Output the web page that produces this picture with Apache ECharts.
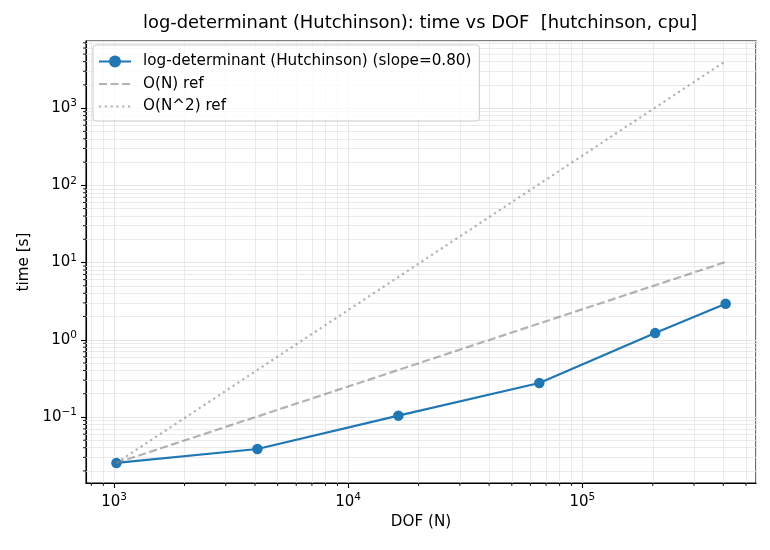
<!DOCTYPE html>
<html>
<head>
<meta charset="utf-8">
<script src="https://cdn.jsdelivr.net/npm/echarts@6/dist/echarts.min.js"></script>
<style>
  html, body { margin: 0; padding: 0; background: #fff; }
  #chart { width: 770px; height: 550px; }
</style>
</head>
<body>
<div id="chart"></div>
<script>
// measured data (DOF vs wall time)
const dof = [1024, 4096, 16384, 65536, 204800, 409600]
const timeSec = [0.0254, 0.0385, 0.104, 0.275, 1.22, 2.92]
// reference slopes anchored at first point
const refN = [0.0254, 0.1016, 0.4064, 1.626, 5.08, 10.16]
const refN2 = [0.0254, 0.4064, 6.50, 104.0, 1016, 4064]

// axis limits and minor ticks
const xMin = 759, xMax = 552000
const yMin = 0.01396, yMax = 7400
const xMinor = [800, 900, 2000, 3000, 4000, 5000, 6000, 7000, 8000, 9000,
  20000, 30000, 40000, 50000, 60000, 70000, 80000, 90000,
  200000, 300000, 400000, 500000]
const yMinor = [0.02, 0.03, 0.04, 0.05, 0.06, 0.07, 0.08, 0.09,
  0.2, 0.3, 0.4, 0.5, 0.6, 0.7, 0.8, 0.9,
  2, 3, 4, 5, 6, 7, 8, 9,
  20, 30, 40, 50, 60, 70, 80, 90,
  200, 300, 400, 500, 600, 700, 800, 900,
  2000, 3000, 4000, 5000, 6000, 7000]

const FONT = 'DejaVu Sans'
const GRID_COLOR = '#e6e6e6'
const REF_COLOR = 'rgba(128,128,128,0.6)'

function powLabel(v) {
  let e = Math.round(Math.log10(v))
  let s = e < 0 ? '\u2212' + (-e) : '' + e
  return '{b|10}{s|' + s + '}'
}

const labelRich = {
  b: { fontFamily: FONT, fontSize: 15, color: '#000' },
  s: { fontFamily: FONT, fontSize: 10.5, color: '#000', padding: [0, 0, 9, 0] }
}

let chart = echarts.init(document.getElementById('chart'))

chart.setOption({
  animation: false,
  backgroundColor: '#fff',
  title: {
    text: 'log-determinant (Hutchinson): time vs DOF  [hutchinson, cpu]',
    left: 138,
    top: 9,
    textStyle: { fontFamily: FONT, fontSize: 17.9, fontWeight: 'normal', color: '#000' }
  },
  grid: {
    left: 86, top: 41, right: 14, bottom: 67,
    show: true, borderColor: '#000', borderWidth: 1.1, backgroundColor: 'transparent'
  },
  legend: {
    orient: 'vertical',
    left: 93, top: 45,
    data: [
      { name: 'log-determinant (Hutchinson) (slope=0.80)' },
      { name: 'O(N) ref', itemStyle: { opacity: 0 } },
      { name: 'O(N^2) ref', itemStyle: { opacity: 0 } }
    ],
    itemWidth: 32, itemHeight: 15, itemGap: 7.5,
    padding: [9, 8, 7, 5],
    backgroundColor: 'rgba(255,255,255,0.8)',
    borderColor: '#cccccc', borderWidth: 1, borderRadius: 3,
    textStyle: { fontFamily: FONT, fontSize: 15.2, color: '#000', padding: [0, 0, 0, 7] }
  },
  xAxis: {
    type: 'log',
    min: xMin, max: xMax,
    name: 'DOF (N)',
    nameLocation: 'middle',
    nameGap: 32,
    nameTextStyle: { fontFamily: FONT, fontSize: 15.2, color: '#000' },
    axisLine: { lineStyle: { color: '#000', width: 1.1 } },
    axisTick: { show: true, length: 5, lineStyle: { color: '#000', width: 1.1 } },
    axisLabel: {
      margin: 9, showMinLabel: false, showMaxLabel: false,
      formatter: powLabel, rich: labelRich
    },
    splitLine: { show: true, lineStyle: { color: GRID_COLOR, width: 1 } }
  },
  yAxis: {
    type: 'log',
    min: yMin, max: yMax,
    name: 'time [s]',
    nameLocation: 'middle',
    nameGap: 52,
    nameTextStyle: { fontFamily: FONT, fontSize: 15.2, color: '#000' },
    axisLine: { lineStyle: { color: '#000', width: 1.1 } },
    axisTick: { show: true, length: 5, lineStyle: { color: '#000', width: 1.1 } },
    axisLabel: {
      margin: 9, showMinLabel: false, showMaxLabel: false,
      formatter: powLabel, rich: labelRich
    },
    splitLine: { show: true, lineStyle: { color: GRID_COLOR, width: 1 } }
  },
  series: [
    {
      // minor grid lines
      name: 'minor-grid',
      type: 'line',
      data: [],
      z: 1,
      silent: true,
      markLine: {
        z: 1,
        silent: true,
        symbol: 'none',
        label: { show: false },
        lineStyle: { color: GRID_COLOR, width: 0.8, type: 'solid' },
        data: xMinor.map(v => ({ xAxis: v })).concat(yMinor.map(v => ({ yAxis: v })))
      }
    },
    {
      // minor ticks on the bottom axis
      name: 'x-minor-ticks',
      type: 'custom',
      silent: true,
      clip: false,
      data: xMinor.map(v => [v, yMin]),
      renderItem(params, api) {
        let p = api.coord([api.value(0), api.value(1)])
        return {
          type: 'line',
          shape: { x1: p[0], y1: p[1], x2: p[0], y2: p[1] + 3 },
          style: { stroke: '#000', lineWidth: 0.9 }
        }
      }
    },
    {
      // minor ticks on the left axis
      name: 'y-minor-ticks',
      type: 'custom',
      silent: true,
      clip: false,
      data: yMinor.map(v => [xMin, v]),
      renderItem(params, api) {
        let p = api.coord([api.value(0), api.value(1)])
        return {
          type: 'line',
          shape: { x1: p[0] - 3, y1: p[1], x2: p[0], y2: p[1] },
          style: { stroke: '#000', lineWidth: 0.9 }
        }
      }
    },
    {
      name: 'log-determinant (Hutchinson) (slope=0.80)',
      type: 'line',
      data: dof.map((x, i) => [x, timeSec[i]]),
      z: 3,
      symbol: 'circle',
      symbolSize: 10.5,
      itemStyle: { color: '#1f77b4' },
      lineStyle: { color: '#1f77b4', width: 2.2 }
    },
    {
      name: 'O(N) ref',
      type: 'line',
      data: dof.map((x, i) => [x, refN[i]]),
      z: 4,
      symbol: 'none',
      itemStyle: { color: REF_COLOR },
      lineStyle: { color: REF_COLOR, width: 2.2, type: [8, 3.5] }
    },
    {
      name: 'O(N^2) ref',
      type: 'line',
      data: dof.map((x, i) => [x, refN2[i]]),
      z: 4,
      symbol: 'none',
      itemStyle: { color: REF_COLOR },
      lineStyle: { color: REF_COLOR, width: 2.2, type: [2.2, 3.6] }
    }
  ]
})
</script>
</body>
</html>
